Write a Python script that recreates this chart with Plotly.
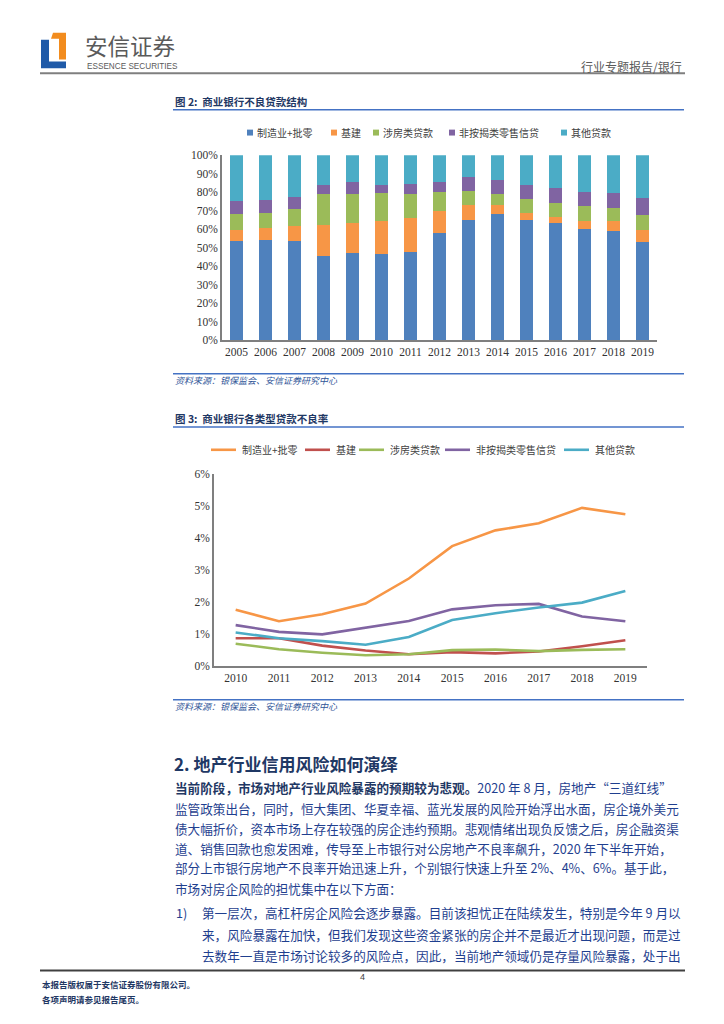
import plotly.graph_objects as go

OFF = 8  # default page body margin in the browser
W, H = 724 - OFF, 1024 - OFF

def X(px):
    return (px - OFF) / W

def Y(py):
    return 1 - (py - OFF) / H

# ---------------- data ----------------
years_bar = ["2005", "2006", "2007", "2008", "2009", "2010", "2011", "2012",
             "2013", "2014", "2015", "2016", "2017", "2018", "2019"]
bar_names = ["制造业+批零", "基建", "涉房类贷款", "非按揭类零售信贷", "其他贷款"]
bar_colors = ["#4F81BD", "#F79646", "#9BBB59", "#8064A2", "#4BACC6"]
manuf = [53.7, 54.4, 53.7, 45.6, 47.3, 46.6, 47.7, 57.8, 65.1, 68.1, 65.1, 63.2, 60.3, 58.9, 53.0]
infra = [5.9, 6.3, 8.0, 16.7, 16.2, 17.8, 18.5, 12.1, 8.2, 5.0, 3.9, 3.5, 4.3, 5.3, 6.6]
realty = [8.4, 8.0, 9.3, 16.5, 15.3, 15.0, 12.6, 10.3, 7.5, 6.1, 7.3, 7.7, 7.8, 7.3, 8.0]
retail = [7.1, 7.1, 6.2, 5.2, 6.8, 4.6, 5.9, 5.4, 7.3, 7.3, 7.5, 7.8, 8.0, 8.2, 9.1]
other = [24.9, 24.2, 22.8, 16.0, 14.4, 16.0, 15.3, 14.4, 11.9, 13.5, 16.2, 17.8, 19.6, 20.3, 23.3]
bar_series = [manuf, infra, realty, retail, other]

years_line = ["2010", "2011", "2012", "2013", "2014", "2015", "2016", "2017", "2018", "2019"]
line_names = ["制造业+批零", "基建", "涉房类贷款", "非按揭类零售信贷", "其他贷款"]
line_colors = ["#F79646", "#C0504D", "#9BBB59", "#8064A2", "#4BACC6"]
npl_manuf = [1.76, 1.40, 1.62, 1.95, 2.73, 3.74, 4.23, 4.45, 4.93, 4.73]
npl_infra = [0.87, 0.87, 0.64, 0.49, 0.37, 0.44, 0.40, 0.46, 0.62, 0.81]
npl_realty = [0.70, 0.53, 0.42, 0.34, 0.37, 0.50, 0.52, 0.47, 0.51, 0.53]
npl_retail = [1.28, 1.07, 0.99, 1.21, 1.41, 1.77, 1.90, 1.94, 1.55, 1.40]
npl_other = [1.05, 0.87, 0.78, 0.67, 0.91, 1.44, 1.65, 1.83, 1.98, 2.34]
line_series = [npl_manuf, npl_infra, npl_realty, npl_retail, npl_other]

# ---------------- figure ----------------
fig = go.Figure()
for name, vals, col in zip(bar_names, bar_series, bar_colors):
    fig.add_trace(go.Bar(x=years_bar, y=vals, name=name, marker_color=col,
                         marker_line_width=0, xaxis="x", yaxis="y", showlegend=False))
for name, vals, col in zip(line_names, line_series, line_colors):
    fig.add_trace(go.Scatter(x=years_line, y=vals, name=name, mode="lines",
                             line=dict(color=col, width=2.6), xaxis="x2", yaxis="y2",
                             showlegend=False))

tickfont = dict(family="Liberation Serif", size=11.5, color="#333333")
fig.update_layout(
    width=W, height=H, margin=dict(l=0, r=0, t=0, b=0),
    paper_bgcolor="white", plot_bgcolor="white",
    barmode="stack", bargap=0.58,
    xaxis=dict(domain=[X(222), X(657)], type="category", showline=True, linecolor="#7f7f7f",
               linewidth=1.5, showgrid=False, ticks="", tickfont=tickfont, anchor="y"),
    yaxis=dict(domain=[Y(338), Y(151)], range=[0, 100], dtick=10, ticksuffix="%",
               showline=True, linecolor="#7f7f7f", linewidth=1.5, showgrid=False,
               ticks="", tickfont=tickfont, zeroline=False, anchor="x"),
    xaxis2=dict(domain=[X(214), X(647)], type="category", showline=True, linecolor="#7f7f7f",
                linewidth=1.5, showgrid=False, ticks="", tickfont=tickfont, anchor="y2",
                range=[-0.5, 9.5]),
    yaxis2=dict(domain=[Y(668), Y(473)], range=[0, 6], dtick=1, ticksuffix="%",
                showline=True, linecolor="#7f7f7f", linewidth=1.5, showgrid=False,
                ticks="", tickfont=tickfont, zeroline=False, anchor="x2"),
)

shapes = []
annos = []

def hline(x0, x1, y, color, width):
    shapes.append(dict(type="line", xref="paper", yref="paper", x0=X(x0), x1=X(x1),
                       y0=Y(y), y1=Y(y), line=dict(color=color, width=width)))

def text(x, y, s, size, color="#203F8F", anchor="left", bold=False, family="Noto Sans CJK SC", italic=False):
    if bold:
        s = "<b>" + s + "</b>"
    if italic:
        s = "<i>" + s + "</i>"
    annos.append(dict(xref="paper", yref="paper", x=X(x), y=Y(y), text=s, showarrow=False,
                      xanchor=anchor, yanchor="middle",
                      font=dict(family=family, size=size, color=color)))

def poly(pts, color):
    path = "M " + " L ".join(f"{X(a)},{Y(b)}" for a, b in pts) + " Z"
    shapes.append(dict(type="path", xref="paper", yref="paper", path=path,
                       fillcolor=color, line=dict(width=0)))

# logo
poly([(41, 34), (49, 34), (49, 56), (66, 56), (66, 63), (41, 63)], "#1F5AA8")
poly([(53, 27), (66, 27), (66, 54), (59, 54), (59, 33), (51, 33)], "#F28C1E")
text(83, 39, "安信证券", 22.5, color="#5a5a5a")
text(85, 61, "ESSENCE SECURITIES", 8.2, color="#5a5a5a", family="Liberation Sans")
text(684, 61, "行业专题报告/银行", 12, color="#5a5a5a", anchor="right")
hline(40, 685, 68, "#7f7f7f", 2)

navy = "#1F3864"
rule = "#4472C4"
# figure 2
text(173, 97, "图 2:  商业银行不良贷款结构", 10.5, color=navy, bold=True)
hline(173, 684, 105, rule, 1.5)
leg_bar = [(247, "制造业+批零"), (331, "基建"), (373, "涉房类贷款"), (449, "非按揭类零售信贷"), (561, "其他贷款")]
for (lx, lab), col in zip(leg_bar, bar_colors):
    shapes.append(dict(type="rect", xref="paper", yref="paper", x0=X(lx), x1=X(lx + 6),
                       y0=Y(131), y1=Y(125), fillcolor=col, line=dict(width=0)))
    text(lx + 8, 128, lab, 10, color="#404040")
hline(173, 684, 372, rule, 1.5)
text(173, 379, "资料来源：银保监会、安信证券研究中心", 9, color="#2F5597", italic=True)

# figure 3
text(173, 417, "图 3:  商业银行各类型贷款不良率", 10.5, color=navy, bold=True)
hline(173, 684, 426, rule, 1.5)
leg_line = [(211, "制造业+批零"), (305, "基建"), (359, "涉房类贷款"), (445, "非按揭类零售信贷"), (564, "其他贷款")]
for (lx, lab), col in zip(leg_line, line_colors):
    hline(lx, lx + 25, 449, col, 2.6)
    text(lx + 29, 449, lab, 10, color="#404040")
hline(173, 684, 702, rule, 1.5)
text(173, 709, "资料来源：银保监会、安信证券研究中心", 9, color="#2F5597", italic=True)

# section
text(172, 766, "2. 地产行业信用风险如何演绎", 17, color=navy, bold=True)
body = "#1F3F8F"
fs = 12.6
text(173, 791, "<b><span style='color:#1F3864'>当前阶段，市场对地产行业风险暴露的预期较为悲观。</span></b>2020 年 8 月，房地产“三道红线”", fs, color=body)
text(173, 812, "监管政策出台，同时，恒大集团、华夏幸福、蓝光发展的风险开始浮出水面，房企境外美元", fs, color=body)
text(173, 832, "债大幅折价，资本市场上存在较强的房企违约预期。悲观情绪出现负反馈之后，房企融资渠", fs, color=body)
text(173, 852, "道、销售回款也愈发困难，传导至上市银行对公房地产不良率飙升，2020 年下半年开始，", fs, color=body)
text(173, 872, "部分上市银行房地产不良率开始迅速上升，个别银行快速上升至 2%、4%、6%。基于此，", fs, color=body)
text(173, 893, "市场对房企风险的担忧集中在以下方面：", fs, color=body)
text(174, 917, "1)", fs, color=body)
text(200, 917, "第一层次，高杠杆房企风险会逐步暴露。目前该担忧正在陆续发生，特别是今年 9 月以", fs, color=body)
text(200, 939, "来，风险暴露在加快，但我们发现这些资金紧张的房企并不是最近才出现问题，而是过", fs, color=body)
text(200, 961, "去数年一直是市场讨论较多的风险点，因此，当前地产领域仍是存量风险暴露，处于出", fs, color=body)

# footer
hline(40, 685, 976, "#404040", 2)
text(40, 990, "本报告版权属于安信证券股份有限公司。", 8.5, color=navy, bold=True)
text(40, 1005, "各项声明请参见报告尾页。", 8.5, color=navy, bold=True)
text(362, 983, "4", 9, color="#404040", family="Liberation Sans", anchor="center")

fig.update_layout(shapes=shapes, annotations=annos)
fig.write_html("out.html")
